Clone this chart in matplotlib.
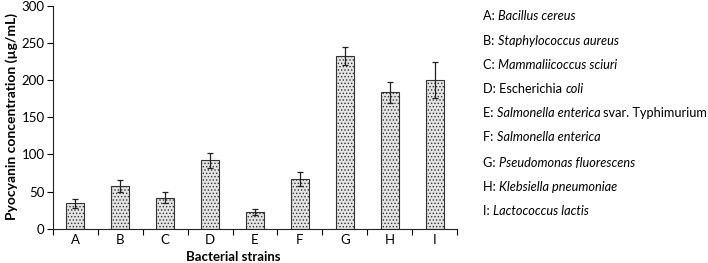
import matplotlib
matplotlib.use("Agg")
import matplotlib.pyplot as plt
import numpy as np

plt.rcParams['font.family'] = ['Lato', 'DejaVu Sans']
plt.rcParams['hatch.linewidth'] = 0.6
plt.rcParams['hatch.color'] = '#555555'

categories = ["A", "B", "C", "D", "E", "F", "G", "H", "I"]
values = [34, 58, 42, 92, 22, 67, 233, 184, 200]
errors = [6, 8, 7, 10, 4, 10, 12, 14, 24]
# each legend line as (text, style) segments
legend_lines = [
    [("A: ", "normal"), ("Bacillus cereus", "italic")],
    [("B: ", "normal"), ("Staphylococcus aureus", "italic")],
    [("C: ", "normal"), ("Mammaliicoccus sciuri", "italic")],
    [("D: Escherichia ", "normal"), ("coli", "italic")],
    [("E: ", "normal"), ("Salmonella enterica", "italic"), ("svar. Typhimurium", "normal")],
    [("F: ", "normal"), ("Salmonella enterica", "italic")],
    [("G: ", "normal"), ("Pseudomonas fluorescens", "italic")],
    [("H: ", "normal"), ("Klebsiella pneumoniae", "italic")],
    [("I: ", "normal"), ("Lactococcus lactis", "italic")],
]

W, H = 708, 263
fig = plt.figure(figsize=(W / 100, H / 100), dpi=100)
ax = fig.add_axes([53 / W, 1 - 228.7 / H, 404 / W, 222.7 / H])

x = np.arange(len(categories))
ax.bar(x, values, width=0.4, color='#e4e4e4', edgecolor='#333333', linewidth=0.8,
       hatch='.....', zorder=2)
ax.errorbar(x, values, yerr=errors, fmt='none', ecolor='#222222', elinewidth=0.9,
            capsize=2.2, capthick=0.9, zorder=3)

ax.set_xlim(-0.5, 8.5)
ax.set_ylim(0, 300)
ax.set_yticks([0, 50, 100, 150, 200, 250, 300])
ax.set_xticks(x)
ax.set_xticklabels(categories)
ax.set_xticks(np.arange(-0.5, 9.0, 1.0), minor=True)
ax.tick_params(axis='x', which='major', length=0, labelsize=9.5, pad=4)
ax.tick_params(axis='x', which='minor', length=4, width=0.8, direction='out')
ax.tick_params(axis='y', length=4, width=0.8, direction='out', labelsize=9.5, pad=2)
for s in ['top', 'right']:
    ax.spines[s].set_visible(False)
for s in ['left', 'bottom']:
    ax.spines[s].set_linewidth(0.8)
    ax.spines[s].set_color('#222222')

ax.set_ylabel("Pyocyanin concentration (µg/mL)", fontsize=10, fontweight='bold')
ax.yaxis.set_label_coords((12 - 53) / 404, (228.7 - 117) / 222.7)
ax.yaxis.label.set_verticalalignment('center')
ax.set_xlabel("Bacterial strains", fontsize=9.5, fontweight='bold')
ax.xaxis.set_label_coords((233 - 53) / 404, (228.7 - 257) / 222.7)
ax.xaxis.label.set_verticalalignment('center')

# legend text list on the right
fig.canvas.draw()
renderer = fig.canvas.get_renderer()
x0 = 483
ys = [15.7, 41, 65, 89.3, 113, 137, 163, 187, 211]
fs = 9.2
for i, segs in enumerate(legend_lines):
    xp = x0
    for j, (txt, style) in enumerate(segs):
        t = fig.text(xp / W, 1 - ys[i] / H, txt, fontsize=fs, style=style,
                     va='center', ha='left')
        bb = t.get_window_extent(renderer=renderer)
        xp += bb.width
        if style == 'italic' and j < len(segs) - 1:
            xp += 3

fig.savefig("out.png", dpi=100)
